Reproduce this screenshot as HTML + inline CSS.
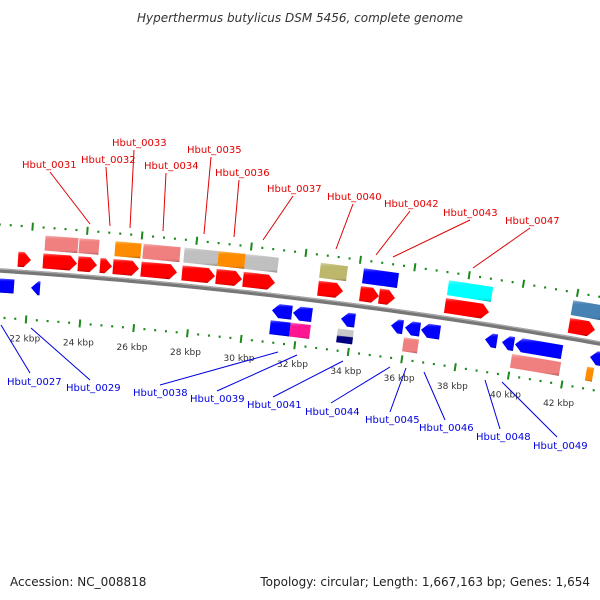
<!DOCTYPE html>
<html><head><meta charset="utf-8"><style>
html,body{margin:0;padding:0;background:#fff}
svg{display:block}
text{font-family:"DejaVu Sans","Liberation Sans",sans-serif}
</style></head><body>
<svg id="s" width="600" height="600" viewBox="0 0 600 600" xmlns="http://www.w3.org/2000/svg">
<defs id="d"></defs>
<text x="300" y="22" text-anchor="middle" font-size="12" font-style="italic" fill="#333">Hyperthermus butylicus DSM 5456, complete genome</text>
<g id="g"></g>
<g font-size="10" fill="#e00000">
<text x="22" y="168">Hbut_0031</text>
<text x="81" y="163">Hbut_0032</text>
<text x="112" y="146">Hbut_0033</text>
<text x="144" y="169">Hbut_0034</text>
<text x="187" y="153">Hbut_0035</text>
<text x="215" y="176">Hbut_0036</text>
<text x="267" y="192">Hbut_0037</text>
<text x="327" y="200">Hbut_0040</text>
<text x="384" y="207">Hbut_0042</text>
<text x="443" y="216">Hbut_0043</text>
<text x="505" y="224">Hbut_0047</text>
</g>
<g stroke="#e00000" stroke-width="1">
<line x1="50" y1="172" x2="90" y2="224"/>
<line x1="106" y1="167" x2="110" y2="226"/>
<line x1="134" y1="150" x2="130" y2="228"/>
<line x1="166" y1="173" x2="163" y2="231"/>
<line x1="211" y1="157" x2="204" y2="234"/>
<line x1="239" y1="180" x2="234" y2="237"/>
<line x1="293" y1="196" x2="263" y2="240"/>
<line x1="353" y1="204" x2="336" y2="249"/>
<line x1="410" y1="211" x2="376" y2="255"/>
<line x1="470" y1="220" x2="393" y2="257"/>
<line x1="530" y1="228" x2="473" y2="268"/>
</g>
<g font-size="10" fill="#0000e0">
<text x="7" y="385">Hbut_0027</text>
<text x="66" y="391">Hbut_0029</text>
<text x="133" y="396">Hbut_0038</text>
<text x="190" y="402">Hbut_0039</text>
<text x="247" y="408">Hbut_0041</text>
<text x="305" y="415">Hbut_0044</text>
<text x="365" y="423">Hbut_0045</text>
<text x="419" y="431">Hbut_0046</text>
<text x="476" y="440">Hbut_0048</text>
<text x="533" y="449">Hbut_0049</text>
</g>
<g stroke="#0000e0" stroke-width="1">
<line x1="1" y1="325" x2="30" y2="373"/>
<line x1="31" y1="328" x2="90" y2="380"/>
<line x1="278" y1="352" x2="160" y2="385"/>
<line x1="297" y1="355" x2="217" y2="391"/>
<line x1="343" y1="361" x2="273" y2="397"/>
<line x1="390" y1="367" x2="331" y2="403"/>
<line x1="406" y1="368" x2="390" y2="412"/>
<line x1="424" y1="372" x2="445" y2="420"/>
<line x1="485" y1="380" x2="500" y2="429"/>
<line x1="502" y1="382" x2="557" y2="437"/>
</g>
<text x="10" y="586" font-size="12" fill="#222">Accession: NC_008818</text>
<text x="590" y="586" font-size="12" fill="#222" text-anchor="end">Topology: circular; Length: 1,667,163 bp; Genes: 1,654</text>
</svg>
<script>
var CX=-353,CY=5675,RA=5416,NS="http://www.w3.org/2000/svg";
var g=document.getElementById('g'),d=document.getElementById('d');
function P(f,r){return [CX+r*Math.sin(f),CY-r*Math.cos(f)];}
function A(x,r){return Math.asin((x-CX)/r);}
function el(t,a,p){var e=document.createElementNS(NS,t);for(var k in a)e.setAttribute(k,a[k]);(p||g).appendChild(e);return e;}
var grads={};
function grad(c){if(grads[c])return grads[c];var id='gr'+Object.keys(grads).length;
var lg=el('linearGradient',{id:id,x1:0,y1:0,x2:0,y2:1},d);
el('stop',{offset:0,'stop-color':'#fff','stop-opacity':0.5},lg);
el('stop',{offset:0.25,'stop-color':c,'stop-opacity':0},lg);
el('stop',{offset:0.8,'stop-color':c,'stop-opacity':0},lg);
el('stop',{offset:1,'stop-color':'#000','stop-opacity':0.35},lg);
grads[c]=id;return id;}
function poly(pts,c){var s=pts.map(function(p){return p[0].toFixed(1)+','+p[1].toFixed(1)}).join(' ');
el('polygon',{points:s,fill:c});
el('polygon',{points:s,fill:'url(#'+grad(c)+')'});}
var ROW={f1:[RA+5,RA+20],f2:[RA+23,RA+38],r1:[RA-22,RA-8],r2:[RA-39,RA-25]};
function gene(x1,x2,row,c,dir){var r0=ROW[row][0],r1=ROW[row][1],rm=(r0+r1)/2;
var a=A(x1,rm),b=A(x2,rm),h=Math.min(7,(x2-x1)*0.8)/rm,pts;
if(dir==1)pts=[P(a,r1),P(b-h,r1),P(b,rm),P(b-h,r0),P(a,r0)];
else if(dir==-1)pts=[P(b,r1),P(a+h,r1),P(a,rm),P(a+h,r0),P(b,r0)];
else pts=[P(a,r1),P(b,r1),P(b,r0),P(a,r0)];
poly(pts,c);}
(function(){var s=[],s3=[];for(var x=-20;x<=640;x+=10){s.push(P(A(x,RA),RA).join(','));s3.push(P(A(x,RA+1.5),RA+1.5).join(','));}
el('polyline',{points:s.join(' '),fill:'none',stroke:'#777',"stroke-width":4.5});
el('polyline',{points:s3.join(' '),fill:'none',stroke:'#aaa',"stroke-width":1.2});})();
function phi(k){return 0.07066+(k-22)*0.005028;}
for(var i=0;i<=70;i++){var k=18+i*0.4,f=phi(k);var maj=Math.abs(k/2-Math.round(k/2))<0.01;
[RA+46,RA-47].forEach(function(r){
if(maj){var p1=P(f,r-4),p2=P(f,r+4);el('line',{x1:p1[0],y1:p1[1],x2:p2[0],y2:p2[1],stroke:'#1a8a1a','stroke-width':2});}
else{var p=P(f,r);el('rect',{x:p[0]-1,y:p[1]-1,width:2,height:2.2,fill:'#1a8a1a'});}
});
if(maj&&k>=22&&k<=42){var p=P(f,RA-66);el('text',{x:p[0],y:p[1]+3,'text-anchor':'middle','font-size':9,fill:'#333'}).textContent=Math.round(k)+' kbp';}
}
var R='#ff0000',PK='#f08080',OR='#ff8c00',GR='#c0c0c0',B='#0000ff';
[[18,31],[43,77],[78,97],[100,112],[113,139],[141,177],[182,215],[216,242],[243,275],[318,343],[360,379],[379,395],[445,489],[569,595]].forEach(function(a){gene(a[0],a[1],'f1',R,1);});
[[45,78,PK],[79,99,PK],[115,141,OR],[143,180,PK],[184,218,GR],[218,245,OR],[245,278,GR],[320,347,'#bdb76b'],[363,398,B],[448,492,'#00ffff'],[572,602,'#4682b4']].forEach(function(a){gene(a[0],a[1],'f2',a[2],0);});
gene(-5,14,'r1',B,0);
[[31,40],[272,292],[293,312],[341,355],[391,403],[405,420],[421,440],[485,497],[502,514],[515,562],[590,602]].forEach(function(a){gene(a[0],a[1],'r1',B,-1);});
[[270,290,B],[290,310,'#ff1493'],[403,418,PK],[511,560,PK],[586,593,OR]].forEach(function(a){gene(a[0],a[1],'r2',a[2],0);});
(function(){var r0=RA-39,r1=RA-25,rm=(r0+r1)/2,a=A(337,rm),b=A(353,rm);poly([P(a,r1),P(b,r1),P(b,rm),P(a,rm)],'#c8c8c8');poly([P(a,rm),P(b,rm),P(b,r0),P(a,r0)],'#000080');})();
</script>
</body></html>
